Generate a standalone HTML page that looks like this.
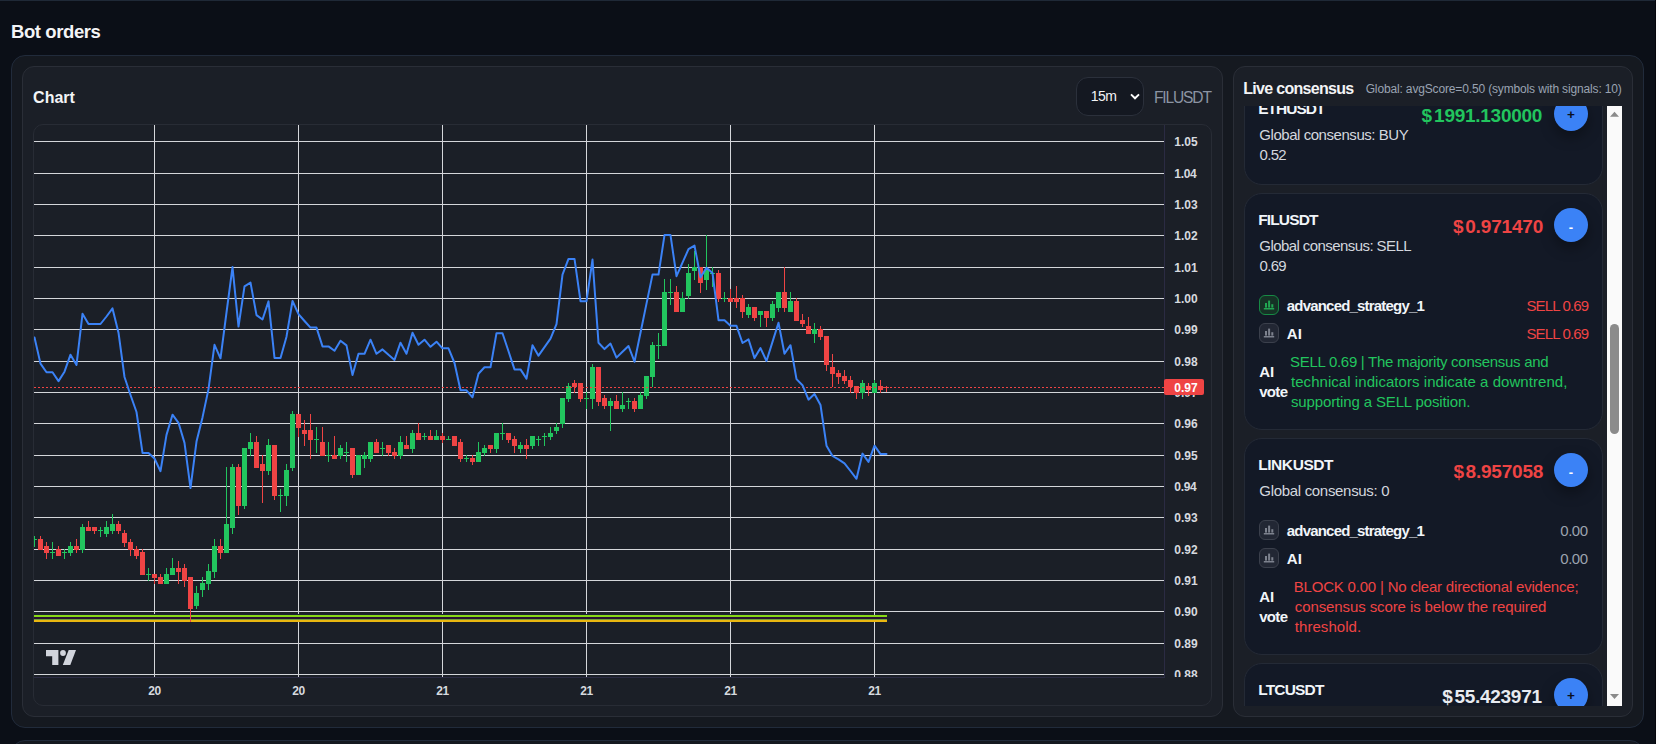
<!DOCTYPE html>
<html lang="en"><head><meta charset="utf-8"><title>Bot orders</title>
<style>
html,body{margin:0;padding:0}
body{width:1659px;height:744px;overflow:hidden;background:#0b0f17;position:relative;font-family:"Liberation Sans", sans-serif}
.t{position:absolute;white-space:pre;display:block}
.abs{position:absolute;box-sizing:border-box}
#topline{left:0;top:0;width:1656px;height:1px;background:#1f2937}
#rstrip{left:1655px;top:0;width:4px;height:744px;background:#fcfcfc;border-left:1px solid #05060c}
#outer{left:11px;top:55px;width:1633px;height:673px;border:1px solid #212b3b;border-radius:14px;background:#151920}
#next{left:11px;top:740px;width:1633px;height:40px;border:1px solid #212b3b;border-radius:14px;background:#151920}
#cardL{left:22px;top:66px;width:1201px;height:651px;border:1px solid #2a2e37;border-radius:12px;background:#1b1f27}
#cardR{left:1233px;top:66px;width:1400px;height:651px;width:400px;border:1px solid #2a2e37;border-radius:12px;background:#1b1f27}
#sel{left:1076px;top:77px;width:68px;height:39px;border:1px solid #2b303b;border-radius:12px;background:#141821}
#chartbox{left:33px;top:124px;width:1179px;height:582px;border:1px solid #282c35;border-radius:10px;background:#1b1f27;overflow:hidden}
#scroll{left:1244px;top:106px;width:378px;height:600px;background:#1b1f27;overflow:hidden}
#sbar{left:363px;top:0;width:15px;height:600px;background:#fafafa}
#thumb{left:3px;top:218px;width:9px;height:110px;border-radius:4.5px;background:#8b8b8b}
.item{left:0;width:359px;border:1px solid #242a36;border-radius:18px;background:#131926}
.btn{width:34px;height:34px;border-radius:17px;background:#3b82f6;box-shadow:0 6px 14px rgba(0,0,0,.35)}
.ico{width:20px;height:20px;border-radius:6px;border:1px solid #3b404c;background:#222734}
.ico.g{border-color:#178a45;background:#163226}
</style></head><body>
<div class="abs" id="topline"></div>
<div class="abs" id="outer"></div>
<div class="abs" id="next"></div>
<div class="abs" id="cardL"></div>
<div class="abs" id="cardR"></div>
<div class="abs" id="sel"></div>
<svg class="abs" style="left:1130px;top:93px" width="11" height="8" viewBox="0 0 11 8"><path d="M1 1.4 L5 5.3 L9 1.4" fill="none" stroke="#fff" stroke-width="1.9"/></svg>
<span class="t" style="left:11.0px;top:21.00px;font-size:18.5px;line-height:21px;font-weight:700;color:#f3f4f6;letter-spacing:-0.411px;">Bot orders</span>
<span class="t" style="left:33.1px;top:89.00px;font-size:16px;line-height:17px;font-weight:700;color:#f3f4f6;letter-spacing:0.000px;">Chart</span>
<span class="t" style="left:1243.2px;top:80.00px;font-size:16px;line-height:17px;font-weight:700;color:#f3f4f6;letter-spacing:-0.692px;">Live consensus</span>
<span class="t" style="left:1365.7px;top:82.00px;font-size:12px;line-height:14px;font-weight:400;color:#9aa3b2;letter-spacing:-0.149px;">Global: avgScore=0.50 (symbols with signals: 10)</span>
<span class="t" style="left:1153.9px;top:89.00px;font-size:15.6px;line-height:17px;font-weight:400;color:#8b94a3;letter-spacing:-1.150px;">FILUSDT</span>
<span class="t" style="left:1090.8px;top:88.00px;font-size:14px;line-height:16px;font-weight:400;color:#f3f4f6;letter-spacing:-0.500px;">15m</span>
<div class="abs" id="chartbox">
<svg class="abs" style="left:0;top:0" width="1177" height="580" viewBox="34 125 1177 580" shape-rendering="auto">
<g stroke="#d4d6da" stroke-width="1" shape-rendering="crispEdges">
<line x1="34" y1="674.5" x2="1164" y2="674.5"/>
<line x1="34" y1="643.5" x2="1164" y2="643.5"/>
<line x1="34" y1="611.5" x2="1164" y2="611.5"/>
<line x1="34" y1="580.5" x2="1164" y2="580.5"/>
<line x1="34" y1="549.5" x2="1164" y2="549.5"/>
<line x1="34" y1="517.5" x2="1164" y2="517.5"/>
<line x1="34" y1="486.5" x2="1164" y2="486.5"/>
<line x1="34" y1="455.5" x2="1164" y2="455.5"/>
<line x1="34" y1="423.5" x2="1164" y2="423.5"/>
<line x1="34" y1="392.5" x2="1164" y2="392.5"/>
<line x1="34" y1="361.5" x2="1164" y2="361.5"/>
<line x1="34" y1="329.5" x2="1164" y2="329.5"/>
<line x1="34" y1="298.5" x2="1164" y2="298.5"/>
<line x1="34" y1="267.5" x2="1164" y2="267.5"/>
<line x1="34" y1="235.5" x2="1164" y2="235.5"/>
<line x1="34" y1="204.5" x2="1164" y2="204.5"/>
<line x1="34" y1="173.5" x2="1164" y2="173.5"/>
<line x1="34" y1="141.5" x2="1164" y2="141.5"/>
<line x1="154.5" y1="125" x2="154.5" y2="677"/>
<line x1="298.5" y1="125" x2="298.5" y2="677"/>
<line x1="442.5" y1="125" x2="442.5" y2="677"/>
<line x1="586.5" y1="125" x2="586.5" y2="677"/>
<line x1="730.5" y1="125" x2="730.5" y2="677"/>
<line x1="874.5" y1="125" x2="874.5" y2="677"/>
</g>
<g stroke="#2b2b43" stroke-width="1" shape-rendering="crispEdges"><line x1="1164.5" y1="125" x2="1164.5" y2="678"/><line x1="34" y1="677.5" x2="1165" y2="677.5"/></g>
<g shape-rendering="crispEdges">
<rect x="34" y="614" width="830" height="1" fill="#1c2233"/>
<rect x="34" y="615" width="852.5" height="2" fill="#86d816"/>
<rect x="34" y="617.4" width="852.5" height="1.4" fill="#2a1430"/>
<rect x="34" y="619" width="852.5" height="1" fill="#6fa03a"/>
<rect x="34" y="620" width="852.5" height="2" fill="#eab711"/>
</g>
<clipPath id="plotclip"><rect x="34" y="125" width="1130" height="552"/></clipPath>
<g clip-path="url(#plotclip)">
<g shape-rendering="crispEdges">
<rect x="34.0" y="536" width="1" height="11" fill="#22c55e"/>
<rect x="32.0" y="539" width="5" height="1" fill="#22c55e"/>
<rect x="40.0" y="536" width="1" height="14" fill="#ef4444"/>
<rect x="38.0" y="539" width="5" height="11" fill="#ef4444"/>
<rect x="46.0" y="542" width="1" height="17" fill="#ef4444"/>
<rect x="44.0" y="546" width="5" height="7" fill="#ef4444"/>
<rect x="52.0" y="542" width="1" height="17" fill="#22c55e"/>
<rect x="50.0" y="552" width="5" height="1" fill="#22c55e"/>
<rect x="58.0" y="546" width="1" height="10" fill="#ef4444"/>
<rect x="56.0" y="549" width="5" height="7" fill="#ef4444"/>
<rect x="64.0" y="549" width="1" height="10" fill="#22c55e"/>
<rect x="62.0" y="552" width="5" height="1" fill="#22c55e"/>
<rect x="70.0" y="542" width="1" height="14" fill="#22c55e"/>
<rect x="68.0" y="546" width="5" height="7" fill="#22c55e"/>
<rect x="76.0" y="539" width="1" height="14" fill="#ef4444"/>
<rect x="74.0" y="546" width="5" height="4" fill="#ef4444"/>
<rect x="82.0" y="524" width="1" height="29" fill="#22c55e"/>
<rect x="80.0" y="527" width="5" height="23" fill="#22c55e"/>
<rect x="88.0" y="521" width="1" height="10" fill="#ef4444"/>
<rect x="86.0" y="527" width="5" height="4" fill="#ef4444"/>
<rect x="94.0" y="527" width="1" height="7" fill="#ef4444"/>
<rect x="92.0" y="527" width="5" height="4" fill="#ef4444"/>
<rect x="100.0" y="527" width="1" height="10" fill="#22c55e"/>
<rect x="98.0" y="530" width="5" height="1" fill="#22c55e"/>
<rect x="106.0" y="521" width="1" height="16" fill="#22c55e"/>
<rect x="104.0" y="527" width="5" height="7" fill="#22c55e"/>
<rect x="112.0" y="514" width="1" height="20" fill="#22c55e"/>
<rect x="110.0" y="524" width="5" height="7" fill="#22c55e"/>
<rect x="118.0" y="521" width="1" height="13" fill="#ef4444"/>
<rect x="116.0" y="524" width="5" height="7" fill="#ef4444"/>
<rect x="124.0" y="530" width="1" height="17" fill="#ef4444"/>
<rect x="122.0" y="533" width="5" height="10" fill="#ef4444"/>
<rect x="130.0" y="539" width="1" height="17" fill="#ef4444"/>
<rect x="128.0" y="542" width="5" height="8" fill="#ef4444"/>
<rect x="136.0" y="546" width="1" height="13" fill="#ef4444"/>
<rect x="134.0" y="549" width="5" height="7" fill="#ef4444"/>
<rect x="142.0" y="549" width="1" height="26" fill="#ef4444"/>
<rect x="140.0" y="552" width="5" height="23" fill="#ef4444"/>
<rect x="148.0" y="568" width="1" height="13" fill="#22c55e"/>
<rect x="146.0" y="574" width="5" height="1" fill="#22c55e"/>
<rect x="154.0" y="574" width="1" height="10" fill="#ef4444"/>
<rect x="152.0" y="574" width="5" height="4" fill="#ef4444"/>
<rect x="160.0" y="574" width="1" height="10" fill="#ef4444"/>
<rect x="158.0" y="577" width="5" height="7" fill="#ef4444"/>
<rect x="166.0" y="568" width="1" height="16" fill="#22c55e"/>
<rect x="164.0" y="574" width="5" height="10" fill="#22c55e"/>
<rect x="172.0" y="558" width="1" height="17" fill="#22c55e"/>
<rect x="170.0" y="568" width="5" height="7" fill="#22c55e"/>
<rect x="178.0" y="561" width="1" height="23" fill="#ef4444"/>
<rect x="176.0" y="568" width="5" height="4" fill="#ef4444"/>
<rect x="184.0" y="564" width="1" height="23" fill="#ef4444"/>
<rect x="182.0" y="568" width="5" height="13" fill="#ef4444"/>
<rect x="190.0" y="577" width="1" height="45" fill="#ef4444"/>
<rect x="188.0" y="577" width="5" height="32" fill="#ef4444"/>
<rect x="196.0" y="586" width="1" height="23" fill="#22c55e"/>
<rect x="194.0" y="593" width="5" height="13" fill="#22c55e"/>
<rect x="202.0" y="577" width="1" height="20" fill="#22c55e"/>
<rect x="200.0" y="583" width="5" height="7" fill="#22c55e"/>
<rect x="208.0" y="564" width="1" height="26" fill="#22c55e"/>
<rect x="206.0" y="571" width="5" height="13" fill="#22c55e"/>
<rect x="214.0" y="539" width="1" height="39" fill="#22c55e"/>
<rect x="212.0" y="546" width="5" height="26" fill="#22c55e"/>
<rect x="220.0" y="539" width="1" height="20" fill="#ef4444"/>
<rect x="218.0" y="546" width="5" height="7" fill="#ef4444"/>
<rect x="226.0" y="467" width="1" height="86" fill="#22c55e"/>
<rect x="224.0" y="524" width="5" height="29" fill="#22c55e"/>
<rect x="232.0" y="464" width="1" height="70" fill="#22c55e"/>
<rect x="230.0" y="467" width="5" height="61" fill="#22c55e"/>
<rect x="238.0" y="464" width="1" height="51" fill="#ef4444"/>
<rect x="236.0" y="467" width="5" height="39" fill="#ef4444"/>
<rect x="244.0" y="448" width="1" height="61" fill="#22c55e"/>
<rect x="242.0" y="448" width="5" height="58" fill="#22c55e"/>
<rect x="250.0" y="433" width="1" height="23" fill="#22c55e"/>
<rect x="248.0" y="442" width="5" height="7" fill="#22c55e"/>
<rect x="256.0" y="436" width="1" height="32" fill="#ef4444"/>
<rect x="254.0" y="442" width="5" height="26" fill="#ef4444"/>
<rect x="262.0" y="455" width="1" height="48" fill="#ef4444"/>
<rect x="260.0" y="464" width="5" height="7" fill="#ef4444"/>
<rect x="268.0" y="439" width="1" height="36" fill="#22c55e"/>
<rect x="266.0" y="445" width="5" height="26" fill="#22c55e"/>
<rect x="274.0" y="445" width="1" height="55" fill="#ef4444"/>
<rect x="272.0" y="445" width="5" height="51" fill="#ef4444"/>
<rect x="280.0" y="489" width="1" height="23" fill="#22c55e"/>
<rect x="278.0" y="495" width="5" height="1" fill="#22c55e"/>
<rect x="286.0" y="464" width="1" height="42" fill="#22c55e"/>
<rect x="284.0" y="470" width="5" height="26" fill="#22c55e"/>
<rect x="292.0" y="411" width="1" height="60" fill="#22c55e"/>
<rect x="290.0" y="414" width="5" height="54" fill="#22c55e"/>
<rect x="298.0" y="414" width="1" height="23" fill="#ef4444"/>
<rect x="296.0" y="414" width="5" height="14" fill="#ef4444"/>
<rect x="304.0" y="420" width="1" height="26" fill="#ef4444"/>
<rect x="302.0" y="430" width="5" height="4" fill="#ef4444"/>
<rect x="310.0" y="414" width="1" height="45" fill="#ef4444"/>
<rect x="308.0" y="430" width="5" height="10" fill="#ef4444"/>
<rect x="316.0" y="427" width="1" height="26" fill="#22c55e"/>
<rect x="314.0" y="439" width="5" height="1" fill="#22c55e"/>
<rect x="322.0" y="427" width="1" height="29" fill="#ef4444"/>
<rect x="320.0" y="442" width="5" height="14" fill="#ef4444"/>
<rect x="328.0" y="442" width="1" height="20" fill="#22c55e"/>
<rect x="326.0" y="455" width="5" height="1" fill="#22c55e"/>
<rect x="334.0" y="436" width="1" height="23" fill="#ef4444"/>
<rect x="332.0" y="455" width="5" height="4" fill="#ef4444"/>
<rect x="340.0" y="445" width="1" height="14" fill="#22c55e"/>
<rect x="338.0" y="448" width="5" height="8" fill="#22c55e"/>
<rect x="346.0" y="442" width="1" height="20" fill="#22c55e"/>
<rect x="344.0" y="452" width="5" height="1" fill="#22c55e"/>
<rect x="352.0" y="448" width="1" height="30" fill="#ef4444"/>
<rect x="350.0" y="448" width="5" height="27" fill="#ef4444"/>
<rect x="358.0" y="455" width="1" height="20" fill="#22c55e"/>
<rect x="356.0" y="455" width="5" height="20" fill="#22c55e"/>
<rect x="364.0" y="452" width="1" height="16" fill="#22c55e"/>
<rect x="362.0" y="455" width="5" height="4" fill="#22c55e"/>
<rect x="370.0" y="442" width="1" height="20" fill="#22c55e"/>
<rect x="368.0" y="442" width="5" height="17" fill="#22c55e"/>
<rect x="376.0" y="439" width="1" height="14" fill="#ef4444"/>
<rect x="374.0" y="442" width="5" height="11" fill="#ef4444"/>
<rect x="382.0" y="442" width="1" height="14" fill="#22c55e"/>
<rect x="380.0" y="448" width="5" height="1" fill="#22c55e"/>
<rect x="388.0" y="445" width="1" height="11" fill="#ef4444"/>
<rect x="386.0" y="445" width="5" height="8" fill="#ef4444"/>
<rect x="394.0" y="448" width="1" height="11" fill="#ef4444"/>
<rect x="392.0" y="452" width="5" height="4" fill="#ef4444"/>
<rect x="400.0" y="436" width="1" height="23" fill="#22c55e"/>
<rect x="398.0" y="442" width="5" height="14" fill="#22c55e"/>
<rect x="406.0" y="436" width="1" height="13" fill="#ef4444"/>
<rect x="404.0" y="445" width="5" height="4" fill="#ef4444"/>
<rect x="412.0" y="430" width="1" height="23" fill="#22c55e"/>
<rect x="410.0" y="433" width="5" height="16" fill="#22c55e"/>
<rect x="418.0" y="423" width="1" height="17" fill="#ef4444"/>
<rect x="416.0" y="433" width="5" height="7" fill="#ef4444"/>
<rect x="424.0" y="433" width="1" height="7" fill="#22c55e"/>
<rect x="422.0" y="436" width="5" height="1" fill="#22c55e"/>
<rect x="430.0" y="430" width="1" height="10" fill="#ef4444"/>
<rect x="428.0" y="436" width="5" height="4" fill="#ef4444"/>
<rect x="436.0" y="430" width="1" height="10" fill="#22c55e"/>
<rect x="434.0" y="436" width="5" height="4" fill="#22c55e"/>
<rect x="442.0" y="433" width="1" height="10" fill="#ef4444"/>
<rect x="440.0" y="436" width="5" height="4" fill="#ef4444"/>
<rect x="448.0" y="436" width="1" height="4" fill="#22c55e"/>
<rect x="446.0" y="439" width="5" height="1" fill="#22c55e"/>
<rect x="454.0" y="436" width="1" height="10" fill="#ef4444"/>
<rect x="452.0" y="436" width="5" height="10" fill="#ef4444"/>
<rect x="460.0" y="439" width="1" height="23" fill="#ef4444"/>
<rect x="458.0" y="442" width="5" height="17" fill="#ef4444"/>
<rect x="466.0" y="455" width="1" height="7" fill="#22c55e"/>
<rect x="464.0" y="458" width="5" height="1" fill="#22c55e"/>
<rect x="472.0" y="455" width="1" height="10" fill="#ef4444"/>
<rect x="470.0" y="458" width="5" height="4" fill="#ef4444"/>
<rect x="478.0" y="442" width="1" height="20" fill="#22c55e"/>
<rect x="476.0" y="452" width="5" height="10" fill="#22c55e"/>
<rect x="484.0" y="445" width="1" height="11" fill="#22c55e"/>
<rect x="482.0" y="448" width="5" height="5" fill="#22c55e"/>
<rect x="490.0" y="445" width="1" height="8" fill="#ef4444"/>
<rect x="488.0" y="445" width="5" height="4" fill="#ef4444"/>
<rect x="496.0" y="433" width="1" height="20" fill="#22c55e"/>
<rect x="494.0" y="433" width="5" height="16" fill="#22c55e"/>
<rect x="502.0" y="423" width="1" height="17" fill="#22c55e"/>
<rect x="500.0" y="433" width="5" height="1" fill="#22c55e"/>
<rect x="508.0" y="433" width="1" height="10" fill="#ef4444"/>
<rect x="506.0" y="433" width="5" height="7" fill="#ef4444"/>
<rect x="514.0" y="436" width="1" height="17" fill="#ef4444"/>
<rect x="512.0" y="439" width="5" height="7" fill="#ef4444"/>
<rect x="520.0" y="442" width="1" height="11" fill="#22c55e"/>
<rect x="518.0" y="445" width="5" height="4" fill="#22c55e"/>
<rect x="526.0" y="439" width="1" height="20" fill="#ef4444"/>
<rect x="524.0" y="445" width="5" height="4" fill="#ef4444"/>
<rect x="532.0" y="436" width="1" height="13" fill="#22c55e"/>
<rect x="530.0" y="436" width="5" height="10" fill="#22c55e"/>
<rect x="538.0" y="436" width="1" height="10" fill="#22c55e"/>
<rect x="536.0" y="439" width="5" height="1" fill="#22c55e"/>
<rect x="544.0" y="433" width="1" height="13" fill="#22c55e"/>
<rect x="542.0" y="436" width="5" height="1" fill="#22c55e"/>
<rect x="550.0" y="427" width="1" height="13" fill="#22c55e"/>
<rect x="548.0" y="433" width="5" height="4" fill="#22c55e"/>
<rect x="556.0" y="423" width="1" height="11" fill="#22c55e"/>
<rect x="554.0" y="427" width="5" height="4" fill="#22c55e"/>
<rect x="562.0" y="398" width="1" height="30" fill="#22c55e"/>
<rect x="560.0" y="398" width="5" height="26" fill="#22c55e"/>
<rect x="568.0" y="383" width="1" height="19" fill="#22c55e"/>
<rect x="566.0" y="386" width="5" height="13" fill="#22c55e"/>
<rect x="574.0" y="380" width="1" height="13" fill="#ef4444"/>
<rect x="572.0" y="383" width="5" height="4" fill="#ef4444"/>
<rect x="580.0" y="383" width="1" height="19" fill="#ef4444"/>
<rect x="578.0" y="383" width="5" height="16" fill="#ef4444"/>
<rect x="586.0" y="392" width="1" height="17" fill="#22c55e"/>
<rect x="584.0" y="398" width="5" height="1" fill="#22c55e"/>
<rect x="592.0" y="364" width="1" height="45" fill="#22c55e"/>
<rect x="590.0" y="367" width="5" height="32" fill="#22c55e"/>
<rect x="598.0" y="367" width="1" height="39" fill="#ef4444"/>
<rect x="596.0" y="367" width="5" height="35" fill="#ef4444"/>
<rect x="604.0" y="395" width="1" height="14" fill="#ef4444"/>
<rect x="602.0" y="398" width="5" height="8" fill="#ef4444"/>
<rect x="610.0" y="398" width="1" height="33" fill="#22c55e"/>
<rect x="608.0" y="401" width="5" height="5" fill="#22c55e"/>
<rect x="616.0" y="395" width="1" height="14" fill="#ef4444"/>
<rect x="614.0" y="401" width="5" height="8" fill="#ef4444"/>
<rect x="622.0" y="392" width="1" height="20" fill="#22c55e"/>
<rect x="620.0" y="405" width="5" height="4" fill="#22c55e"/>
<rect x="628.0" y="398" width="1" height="11" fill="#22c55e"/>
<rect x="626.0" y="401" width="5" height="1" fill="#22c55e"/>
<rect x="634.0" y="398" width="1" height="14" fill="#ef4444"/>
<rect x="632.0" y="401" width="5" height="8" fill="#ef4444"/>
<rect x="640.0" y="392" width="1" height="17" fill="#22c55e"/>
<rect x="638.0" y="395" width="5" height="14" fill="#22c55e"/>
<rect x="646.0" y="376" width="1" height="23" fill="#22c55e"/>
<rect x="644.0" y="376" width="5" height="20" fill="#22c55e"/>
<rect x="652.0" y="342" width="1" height="45" fill="#22c55e"/>
<rect x="650.0" y="345" width="5" height="32" fill="#22c55e"/>
<rect x="658.0" y="333" width="1" height="26" fill="#22c55e"/>
<rect x="656.0" y="345" width="5" height="1" fill="#22c55e"/>
<rect x="664.0" y="279" width="1" height="67" fill="#22c55e"/>
<rect x="662.0" y="292" width="5" height="54" fill="#22c55e"/>
<rect x="670.0" y="279" width="1" height="26" fill="#22c55e"/>
<rect x="668.0" y="292" width="5" height="1" fill="#22c55e"/>
<rect x="676.0" y="286" width="1" height="26" fill="#ef4444"/>
<rect x="674.0" y="292" width="5" height="20" fill="#ef4444"/>
<rect x="682.0" y="292" width="1" height="20" fill="#22c55e"/>
<rect x="680.0" y="298" width="5" height="14" fill="#22c55e"/>
<rect x="688.0" y="264" width="1" height="35" fill="#22c55e"/>
<rect x="686.0" y="273" width="5" height="23" fill="#22c55e"/>
<rect x="694.0" y="251" width="1" height="29" fill="#22c55e"/>
<rect x="692.0" y="267" width="5" height="4" fill="#22c55e"/>
<rect x="700.0" y="267" width="1" height="26" fill="#ef4444"/>
<rect x="698.0" y="267" width="5" height="16" fill="#ef4444"/>
<rect x="706.0" y="235" width="1" height="55" fill="#22c55e"/>
<rect x="704.0" y="270" width="5" height="10" fill="#22c55e"/>
<rect x="712.0" y="267" width="1" height="20" fill="#22c55e"/>
<rect x="710.0" y="273" width="5" height="1" fill="#22c55e"/>
<rect x="718.0" y="270" width="1" height="32" fill="#ef4444"/>
<rect x="716.0" y="273" width="5" height="26" fill="#ef4444"/>
<rect x="724.0" y="292" width="1" height="10" fill="#22c55e"/>
<rect x="722.0" y="298" width="5" height="1" fill="#22c55e"/>
<rect x="730.0" y="289" width="1" height="13" fill="#ef4444"/>
<rect x="728.0" y="298" width="5" height="4" fill="#ef4444"/>
<rect x="736.0" y="286" width="1" height="22" fill="#ef4444"/>
<rect x="734.0" y="298" width="5" height="4" fill="#ef4444"/>
<rect x="742.0" y="295" width="1" height="23" fill="#ef4444"/>
<rect x="740.0" y="298" width="5" height="14" fill="#ef4444"/>
<rect x="748.0" y="304" width="1" height="14" fill="#22c55e"/>
<rect x="746.0" y="307" width="5" height="8" fill="#22c55e"/>
<rect x="754.0" y="307" width="1" height="14" fill="#ef4444"/>
<rect x="752.0" y="307" width="5" height="11" fill="#ef4444"/>
<rect x="760.0" y="311" width="1" height="16" fill="#22c55e"/>
<rect x="758.0" y="311" width="5" height="4" fill="#22c55e"/>
<rect x="766.0" y="311" width="1" height="16" fill="#ef4444"/>
<rect x="764.0" y="311" width="5" height="7" fill="#ef4444"/>
<rect x="772.0" y="301" width="1" height="20" fill="#22c55e"/>
<rect x="770.0" y="304" width="5" height="14" fill="#22c55e"/>
<rect x="778.0" y="292" width="1" height="20" fill="#22c55e"/>
<rect x="776.0" y="292" width="5" height="16" fill="#22c55e"/>
<rect x="784.0" y="267" width="1" height="45" fill="#ef4444"/>
<rect x="782.0" y="292" width="5" height="16" fill="#ef4444"/>
<rect x="790.0" y="292" width="1" height="20" fill="#22c55e"/>
<rect x="788.0" y="301" width="5" height="11" fill="#22c55e"/>
<rect x="796.0" y="298" width="1" height="23" fill="#ef4444"/>
<rect x="794.0" y="301" width="5" height="20" fill="#ef4444"/>
<rect x="802.0" y="314" width="1" height="13" fill="#ef4444"/>
<rect x="800.0" y="320" width="5" height="4" fill="#ef4444"/>
<rect x="808.0" y="317" width="1" height="17" fill="#ef4444"/>
<rect x="806.0" y="326" width="5" height="8" fill="#ef4444"/>
<rect x="814.0" y="323" width="1" height="20" fill="#22c55e"/>
<rect x="812.0" y="329" width="5" height="5" fill="#22c55e"/>
<rect x="820.0" y="326" width="1" height="14" fill="#ef4444"/>
<rect x="818.0" y="329" width="5" height="8" fill="#ef4444"/>
<rect x="826.0" y="336" width="1" height="35" fill="#ef4444"/>
<rect x="824.0" y="336" width="5" height="29" fill="#ef4444"/>
<rect x="832.0" y="354" width="1" height="33" fill="#ef4444"/>
<rect x="830.0" y="367" width="5" height="7" fill="#ef4444"/>
<rect x="838.0" y="370" width="1" height="14" fill="#ef4444"/>
<rect x="836.0" y="373" width="5" height="4" fill="#ef4444"/>
<rect x="844.0" y="370" width="1" height="14" fill="#ef4444"/>
<rect x="842.0" y="376" width="5" height="5" fill="#ef4444"/>
<rect x="850.0" y="376" width="1" height="17" fill="#ef4444"/>
<rect x="848.0" y="380" width="5" height="7" fill="#ef4444"/>
<rect x="856.0" y="386" width="1" height="13" fill="#ef4444"/>
<rect x="854.0" y="386" width="5" height="7" fill="#ef4444"/>
<rect x="862.0" y="380" width="1" height="19" fill="#22c55e"/>
<rect x="860.0" y="383" width="5" height="10" fill="#22c55e"/>
<rect x="868.0" y="383" width="1" height="13" fill="#ef4444"/>
<rect x="866.0" y="386" width="5" height="4" fill="#ef4444"/>
<rect x="874.0" y="380" width="1" height="13" fill="#22c55e"/>
<rect x="872.0" y="383" width="5" height="10" fill="#22c55e"/>
<rect x="880.0" y="380" width="1" height="13" fill="#ef4444"/>
<rect x="878.0" y="386" width="5" height="4" fill="#ef4444"/>
<rect x="886.0" y="386" width="1" height="6" fill="#ef4444"/>
<rect x="884.0" y="387" width="5" height="1" fill="#ef4444"/>
</g>
<line x1="34" y1="387.5" x2="1164" y2="387.5" stroke="#ef4444" stroke-width="1" stroke-dasharray="2 2" shape-rendering="crispEdges"/>
<polyline points="34.5,337.5 40.5,363.6 46.5,372.2 52.5,372.2 58.5,381.1 64.5,371.7 70.5,354.7 76.5,364.9 82.5,313.8 88.5,324.0 94.5,324.0 100.5,324.0 106.5,316.5 112.5,308.4 118.5,332.7 124.5,377.0 130.5,395.0 136.5,412.0 142.5,452.9 148.5,452.9 154.5,458.5 160.5,471.2 166.5,434.9 172.5,414.7 178.5,422.8 184.5,442.9 190.5,488.1 196.5,441.6 202.5,417.4 208.5,389.1 214.5,344.8 220.5,358.3 226.5,312.5 232.5,267.1 238.5,326.6 244.5,286.3 250.5,282.6 256.5,315.1 262.5,319.5 268.5,301.4 274.5,357.9 280.5,357.9 286.5,336.7 292.5,301.0 298.5,314.1 304.5,321.0 310.5,327.6 316.5,327.6 322.5,346.4 328.5,346.4 334.5,350.8 340.5,340.7 346.5,345.4 352.5,375.0 358.5,353.8 364.5,353.8 370.5,339.7 376.5,353.8 382.5,349.4 388.5,354.8 394.5,359.9 400.5,342.7 406.5,353.8 412.5,332.7 418.5,344.8 424.5,339.7 430.5,346.8 436.5,341.7 442.5,348.3 448.5,348.3 454.5,363.0 460.5,390.3 466.5,390.3 472.5,397.3 478.5,373.8 484.5,367.3 490.5,367.3 496.5,333.2 502.5,333.2 508.5,351.3 514.5,369.4 520.5,369.4 526.5,378.6 532.5,345.3 538.5,355.7 544.5,347.2 550.5,338.7 556.5,324.2 562.5,274.6 568.5,258.9 574.5,258.9 580.5,301.2 586.5,301.2 592.5,259.6 598.5,342.8 604.5,349.1 610.5,343.6 616.5,357.6 622.5,351.8 628.5,346.0 634.5,361.7 640.5,332.7 646.5,303.6 652.5,274.6 658.5,274.6 664.5,235.1 670.5,235.1 676.5,276.2 682.5,262.7 688.5,249.2 694.5,245.6 700.5,277.4 706.5,267.7 712.5,273.0 718.5,320.2 724.5,320.2 730.5,325.8 736.5,325.8 742.5,343.0 748.5,339.3 754.5,358.1 760.5,348.1 766.5,361.0 772.5,341.9 778.5,322.7 784.5,353.7 790.5,345.2 796.5,379.1 802.5,385.2 808.5,399.7 814.5,394.1 820.5,405.0 826.5,445.7 832.5,456.0 838.5,459.4 844.5,463.3 850.5,471.0 856.5,478.8 862.5,453.6 868.5,461.9 874.5,445.7 880.5,454.1 886.5,454.1" fill="none" stroke="#3b82f6" stroke-width="2" stroke-linejoin="round" stroke-linecap="round"/>
</g>
<line x1="1165" y1="387.5" x2="1169" y2="387.5" stroke="#fff" stroke-width="1" opacity=".0"/>
<g fill="#d1d4dc" stroke="#1b1f27" stroke-width="1.2" paint-order="stroke"><path d="M46 650 H58.4 V665 H52.2 V656.2 H46 Z"/><circle cx="63" cy="653" r="2.9"/><path d="M68.7 650 H76 L70.3 665 H62.8 Z"/></g>
</svg>
</div>
<span class="t" style="left:1174.3px;top:668.00px;font-size:12px;line-height:14px;font-weight:700;color:#d6d9df;letter-spacing:0.000px;">0.88</span>
<span class="t" style="left:1174.3px;top:637.00px;font-size:12px;line-height:14px;font-weight:700;color:#d6d9df;letter-spacing:0.000px;">0.89</span>
<span class="t" style="left:1174.3px;top:605.00px;font-size:12px;line-height:14px;font-weight:700;color:#d6d9df;letter-spacing:0.000px;">0.90</span>
<span class="t" style="left:1174.3px;top:574.00px;font-size:12px;line-height:14px;font-weight:700;color:#d6d9df;letter-spacing:0.000px;">0.91</span>
<span class="t" style="left:1174.3px;top:543.00px;font-size:12px;line-height:14px;font-weight:700;color:#d6d9df;letter-spacing:0.000px;">0.92</span>
<span class="t" style="left:1174.3px;top:511.00px;font-size:12px;line-height:14px;font-weight:700;color:#d6d9df;letter-spacing:0.000px;">0.93</span>
<span class="t" style="left:1174.3px;top:480.00px;font-size:12px;line-height:14px;font-weight:700;color:#d6d9df;letter-spacing:-0.333px;">0.94</span>
<span class="t" style="left:1174.3px;top:449.00px;font-size:12px;line-height:14px;font-weight:700;color:#d6d9df;letter-spacing:0.000px;">0.95</span>
<span class="t" style="left:1174.3px;top:417.00px;font-size:12px;line-height:14px;font-weight:700;color:#d6d9df;letter-spacing:0.000px;">0.96</span>
<span class="t" style="left:1174.3px;top:386.00px;font-size:12px;line-height:14px;font-weight:700;color:#d6d9df;letter-spacing:0.000px;">0.97</span>
<span class="t" style="left:1174.3px;top:355.00px;font-size:12px;line-height:14px;font-weight:700;color:#d6d9df;letter-spacing:0.000px;">0.98</span>
<span class="t" style="left:1174.3px;top:323.00px;font-size:12px;line-height:14px;font-weight:700;color:#d6d9df;letter-spacing:0.000px;">0.99</span>
<span class="t" style="left:1174.3px;top:292.00px;font-size:12px;line-height:14px;font-weight:700;color:#d6d9df;letter-spacing:0.000px;">1.00</span>
<span class="t" style="left:1174.3px;top:261.00px;font-size:12px;line-height:14px;font-weight:700;color:#d6d9df;letter-spacing:0.000px;">1.01</span>
<span class="t" style="left:1174.3px;top:229.00px;font-size:12px;line-height:14px;font-weight:700;color:#d6d9df;letter-spacing:0.000px;">1.02</span>
<span class="t" style="left:1174.3px;top:198.00px;font-size:12px;line-height:14px;font-weight:700;color:#d6d9df;letter-spacing:0.000px;">1.03</span>
<span class="t" style="left:1174.3px;top:167.00px;font-size:12px;line-height:14px;font-weight:700;color:#d6d9df;letter-spacing:-0.333px;">1.04</span>
<span class="t" style="left:1174.3px;top:135.00px;font-size:12px;line-height:14px;font-weight:700;color:#d6d9df;letter-spacing:0.000px;">1.05</span>
<div class="abs" style="left:1164px;top:379px;width:40px;height:16.4px;border-radius:2px;background:#ef4444"></div><div class="abs" style="left:1166px;top:677px;width:44px;height:9px;background:#1b1f27"></div>
<span class="t" style="left:1174.3px;top:381.00px;font-size:12px;line-height:14px;font-weight:700;color:#ffffff;letter-spacing:0.000px;">0.97</span>
<span class="t" style="left:148.2px;top:684.00px;font-size:12px;line-height:14px;font-weight:700;color:#d6d9df;letter-spacing:-0.400px;">20</span>
<span class="t" style="left:292.2px;top:684.00px;font-size:12px;line-height:14px;font-weight:700;color:#d6d9df;letter-spacing:-0.400px;">20</span>
<span class="t" style="left:436.2px;top:684.00px;font-size:12px;line-height:14px;font-weight:700;color:#d6d9df;letter-spacing:-0.400px;">21</span>
<span class="t" style="left:580.2px;top:684.00px;font-size:12px;line-height:14px;font-weight:700;color:#d6d9df;letter-spacing:-0.400px;">21</span>
<span class="t" style="left:724.2px;top:684.00px;font-size:12px;line-height:14px;font-weight:700;color:#d6d9df;letter-spacing:-0.400px;">21</span>
<span class="t" style="left:868.2px;top:684.00px;font-size:12px;line-height:14px;font-weight:700;color:#d6d9df;letter-spacing:-0.400px;">21</span>
<div class="abs" id="scroll">
<div class="abs item" style="top:-24.0px;height:103.0px"></div>
<div class="abs btn" style="left:310.0px;top:-9.0px"></div>
<div class="abs item" style="top:87.0px;height:237.0px"></div>
<div class="abs btn" style="left:310.0px;top:102.0px"></div>
<div class="abs ico g" style="left:15.0px;top:189.0px"></div><svg class="abs" style="left:15.0px;top:189.0px" width="20" height="20" viewBox="0 0 20 20"><rect x="6" y="8" width="2" height="4.6" fill="#22a652"/><rect x="9.1" y="5.6" width="2" height="7" fill="#22a652"/><rect x="12.3" y="9.2" width="2" height="3.4" fill="#22a652"/><rect x="4.8" y="13" width="10.4" height="1.5" fill="#22a652"/></svg>
<div class="abs ico" style="left:15.0px;top:217.0px"></div><svg class="abs" style="left:15.0px;top:217.0px" width="20" height="20" viewBox="0 0 20 20"><rect x="6" y="8" width="2" height="4.6" fill="#7d828e"/><rect x="9.1" y="5.6" width="2" height="7" fill="#7d828e"/><rect x="12.3" y="9.2" width="2" height="3.4" fill="#7d828e"/><rect x="4.8" y="13" width="10.4" height="1.5" fill="#7d828e"/></svg>
<div class="abs item" style="top:332.0px;height:217.0px"></div>
<div class="abs btn" style="left:310.0px;top:347.0px"></div>
<div class="abs ico" style="left:15.0px;top:414.0px"></div><svg class="abs" style="left:15.0px;top:414.0px" width="20" height="20" viewBox="0 0 20 20"><rect x="6" y="8" width="2" height="4.6" fill="#7d828e"/><rect x="9.1" y="5.6" width="2" height="7" fill="#7d828e"/><rect x="12.3" y="9.2" width="2" height="3.4" fill="#7d828e"/><rect x="4.8" y="13" width="10.4" height="1.5" fill="#7d828e"/></svg>
<div class="abs ico" style="left:15.0px;top:442.0px"></div><svg class="abs" style="left:15.0px;top:442.0px" width="20" height="20" viewBox="0 0 20 20"><rect x="6" y="8" width="2" height="4.6" fill="#7d828e"/><rect x="9.1" y="5.6" width="2" height="7" fill="#7d828e"/><rect x="12.3" y="9.2" width="2" height="3.4" fill="#7d828e"/><rect x="4.8" y="13" width="10.4" height="1.5" fill="#7d828e"/></svg>
<div class="abs item" style="top:557.0px;height:103.0px"></div>
<div class="abs btn" style="left:310.0px;top:572.0px"></div>
<span class="t" style="left:14.2px;top:-6.00px;font-size:15.5px;line-height:17px;font-weight:700;color:#f1f5f9;letter-spacing:-1.000px;">ETHUSDT</span>
<span class="t" style="left:177.4px;top:-1.00px;font-size:19px;line-height:21px;font-weight:700;color:#22c55e;letter-spacing:-1.900px;">$</span>
<span class="t" style="left:190.1px;top:-1.00px;font-size:19px;line-height:21px;font-weight:700;color:#22c55e;letter-spacing:-0.270px;">1991.130000</span>
<span class="t" style="left:322.9px;top:1.00px;font-size:13.5px;line-height:15px;font-weight:700;color:#0b1020;letter-spacing:-1.500px;">+</span>
<span class="t" style="left:15.3px;top:20.00px;font-size:15px;line-height:17px;font-weight:400;color:#d3d7de;letter-spacing:-0.450px;">Global consensus: BUY</span>
<span class="t" style="left:15.5px;top:40.00px;font-size:15px;line-height:17px;font-weight:400;color:#d3d7de;letter-spacing:-0.667px;">0.52</span>
<span class="t" style="left:14.2px;top:105.00px;font-size:15.5px;line-height:17px;font-weight:700;color:#f1f5f9;letter-spacing:-0.867px;">FILUSDT</span>
<span class="t" style="left:209.1px;top:110.00px;font-size:19px;line-height:21px;font-weight:700;color:#ef4444;letter-spacing:-1.900px;">$</span>
<span class="t" style="left:221.2px;top:110.00px;font-size:19px;line-height:21px;font-weight:700;color:#ef4444;letter-spacing:-0.157px;">0.971470</span>
<span class="t" style="left:324.8px;top:114.00px;font-size:13px;line-height:15px;font-weight:700;color:#fff;letter-spacing:0.400px;">-</span>
<span class="t" style="left:15.3px;top:131.00px;font-size:15px;line-height:17px;font-weight:400;color:#d3d7de;letter-spacing:-0.571px;">Global consensus: SELL</span>
<span class="t" style="left:15.5px;top:151.00px;font-size:15px;line-height:17px;font-weight:400;color:#d3d7de;letter-spacing:-0.667px;">0.69</span>
<span class="t" style="left:42.8px;top:191.00px;font-size:15px;line-height:17px;font-weight:700;color:#f1f5f9;letter-spacing:-0.811px;">advanced_strategy_1</span>
<span class="t" style="left:282.4px;top:191.00px;font-size:15px;line-height:17px;font-weight:400;color:#ef4444;letter-spacing:-0.850px;">SELL 0.69</span>
<span class="t" style="left:42.8px;top:219.00px;font-size:15px;line-height:17px;font-weight:700;color:#f1f5f9;letter-spacing:0.000px;">AI</span>
<span class="t" style="left:282.4px;top:219.00px;font-size:15px;line-height:17px;font-weight:400;color:#ef4444;letter-spacing:-0.850px;">SELL 0.69</span>
<span class="t" style="left:15.2px;top:257.00px;font-size:15px;line-height:17px;font-weight:700;color:#f1f5f9;letter-spacing:0.000px;">AI</span>
<span class="t" style="left:15.2px;top:277.00px;font-size:15px;line-height:17px;font-weight:700;color:#f1f5f9;letter-spacing:-0.667px;">vote</span>
<span class="t" style="left:46.0px;top:247.00px;font-size:15px;line-height:17px;font-weight:400;color:#22c55e;letter-spacing:-0.281px;">SELL 0.69 | The majority consensus and</span>
<span class="t" style="left:47.0px;top:267.00px;font-size:15px;line-height:17px;font-weight:400;color:#22c55e;letter-spacing:0.049px;">technical indicators indicate a downtrend,</span>
<span class="t" style="left:47.0px;top:287.00px;font-size:15px;line-height:17px;font-weight:400;color:#22c55e;letter-spacing:-0.138px;">supporting a SELL position.</span>
<span class="t" style="left:14.2px;top:350.00px;font-size:15.5px;line-height:17px;font-weight:700;color:#f1f5f9;letter-spacing:-0.429px;">LINKUSDT</span>
<span class="t" style="left:209.5px;top:355.00px;font-size:19px;line-height:21px;font-weight:700;color:#ef4444;letter-spacing:-1.900px;">$</span>
<span class="t" style="left:221.6px;top:355.00px;font-size:19px;line-height:21px;font-weight:700;color:#ef4444;letter-spacing:-0.214px;">8.957058</span>
<span class="t" style="left:324.8px;top:359.00px;font-size:13px;line-height:15px;font-weight:700;color:#fff;letter-spacing:0.400px;">-</span>
<span class="t" style="left:15.3px;top:376.00px;font-size:15px;line-height:17px;font-weight:400;color:#d3d7de;letter-spacing:-0.311px;">Global consensus: 0</span>
<span class="t" style="left:42.8px;top:416.00px;font-size:15px;line-height:17px;font-weight:700;color:#f1f5f9;letter-spacing:-0.811px;">advanced_strategy_1</span>
<span class="t" style="left:316.3px;top:416.00px;font-size:15px;line-height:17px;font-weight:400;color:#9ca3af;letter-spacing:-0.467px;">0.00</span>
<span class="t" style="left:42.8px;top:444.00px;font-size:15px;line-height:17px;font-weight:700;color:#f1f5f9;letter-spacing:0.000px;">AI</span>
<span class="t" style="left:316.3px;top:444.00px;font-size:15px;line-height:17px;font-weight:400;color:#9ca3af;letter-spacing:-0.467px;">0.00</span>
<span class="t" style="left:15.2px;top:482.00px;font-size:15px;line-height:17px;font-weight:700;color:#f1f5f9;letter-spacing:0.000px;">AI</span>
<span class="t" style="left:15.2px;top:502.00px;font-size:15px;line-height:17px;font-weight:700;color:#f1f5f9;letter-spacing:-0.667px;">vote</span>
<span class="t" style="left:49.8px;top:472.00px;font-size:15px;line-height:17px;font-weight:400;color:#ef4444;letter-spacing:-0.200px;">BLOCK 0.00 | No clear directional evidence;</span>
<span class="t" style="left:50.8px;top:492.00px;font-size:15px;line-height:17px;font-weight:400;color:#ef4444;letter-spacing:-0.100px;">consensus score is below the required</span>
<span class="t" style="left:50.8px;top:512.00px;font-size:15px;line-height:17px;font-weight:400;color:#ef4444;letter-spacing:0.056px;">threshold.</span>
<span class="t" style="left:14.2px;top:575.00px;font-size:15.5px;line-height:17px;font-weight:700;color:#f1f5f9;letter-spacing:-0.833px;">LTCUSDT</span>
<span class="t" style="left:198.3px;top:580.00px;font-size:19px;line-height:21px;font-weight:700;color:#e8ebf0;letter-spacing:-1.900px;">$</span>
<span class="t" style="left:210.4px;top:580.00px;font-size:19px;line-height:21px;font-weight:700;color:#e8ebf0;letter-spacing:-0.275px;">55.423971</span>
<span class="t" style="left:322.9px;top:582.00px;font-size:13.5px;line-height:15px;font-weight:700;color:#0b1020;letter-spacing:-1.500px;">+</span>
<span class="t" style="left:15.3px;top:601.00px;font-size:15px;line-height:17px;font-weight:400;color:#d3d7de;letter-spacing:-0.450px;">Global consensus: BUY</span>
<span class="t" style="left:15.5px;top:621.00px;font-size:15px;line-height:17px;font-weight:400;color:#d3d7de;letter-spacing:-0.667px;">0.50</span>
<div class="abs" id="sbar"><div class="abs" id="thumb"></div>
<svg class="abs" style="left:0;top:0" width="15" height="15"><path d="M3 10.8 L7.5 5.8 L12 10.8 Z" fill="#8b8b8b"/></svg>
<svg class="abs" style="left:0;top:585px" width="15" height="15"><path d="M3 3.1 L12 3.1 L7.5 8.1 Z" fill="#8b8b8b"/></svg>
</div>
</div>
<div class="abs" id="rstrip"></div>
</body></html>
